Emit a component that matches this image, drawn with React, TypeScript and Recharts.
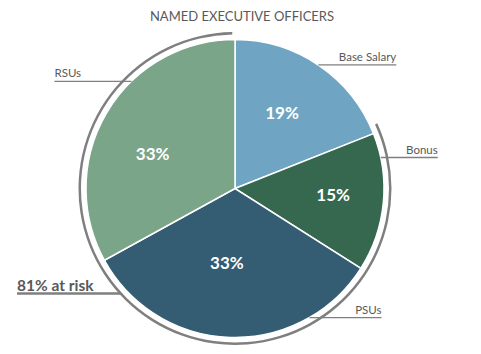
import { PieChart, Pie, Cell } from 'recharts'

const categories = ['Base Salary', 'Bonus', 'PSUs', 'RSUs']
const shares = [19, 15, 33, 33]
const chartTitle = 'NAMED EXECUTIVE OFFICERS'
const atRiskLabel = '81% at risk'

const COLORS = ['#6FA5C2', '#36684F', '#345C72', '#7AA588']
const GREY = '#7F7F7F'
const TEXT = '#595959'
const FONT = 'Lato, "Liberation Sans", sans-serif'

// where each leader line leaves the pie (degrees clockwise from 12 o'clock), length, direction
const LEADERS = [
  { angle: 34, len: 78, dir: 1 },
  { angle: 78, len: 57, dir: 1 },
  { angle: 150, len: 72, dir: 1 },
  { angle: 316, len: 77, dir: -1 },
]
// percent label placement: radius as share of outerRadius, nudge off the mid angle (deg, clockwise)
const LABEL_POS = [
  { r: 0.6, nudge: -2.5 },
  { r: 0.66, nudge: -2 },
  { r: 0.5, nudge: 4.4 },
  { r: 0.6, nudge: -7.7 },
]

const W = 481
const H = 354
const CX = 235
const CY = 188.5
const R = 149
const ARC_IN = 154
const ARC_OUT = 156.5

const data = categories.map((name, i) => ({ name, value: shares[i] }))
const total = shares.reduce((a, b) => a + b, 0)
// the at-risk bracket starts just before the Bonus slice and runs round to the top
const atRiskStart = (shares[0] / total) * 360 - 3
const arcData = [{ name: 'at risk', value: total - shares[0] }]

const RAD = Math.PI / 180

const renderLabel = (props: any) => {
  const { cx, cy, midAngle, outerRadius, index, name, value } = props
  const p = LABEL_POS[index]
  const r = outerRadius * p.r
  const ang = (90 - midAngle + p.nudge) * RAD
  const x = cx + r * Math.sin(ang)
  const y = cy - r * Math.cos(ang)
  const l = LEADERS[index]
  const a = l.angle * RAD
  const sx = cx + outerRadius * Math.sin(a)
  const sy = cy - outerRadius * Math.cos(a)
  const ex = sx + l.dir * l.len
  return (
    <g>
      <text
        x={x}
        y={y}
        fill="#fff"
        textAnchor="middle"
        dominantBaseline="central"
        fontWeight={700}
        fontSize={17}
        fontFamily={FONT}
      >
        {value}%
      </text>
      <line x1={sx} y1={sy} x2={ex} y2={sy} stroke={GREY} strokeWidth={1.3} />
      <text
        x={ex}
        y={sy - 4}
        textAnchor={l.dir > 0 ? 'end' : 'start'}
        fontSize={11.5}
        fill={TEXT}
        fontFamily={FONT}
      >
        {name}
      </text>
    </g>
  )
}

export default function App() {
  // underline of "81% at risk" runs until it meets the bracket arc
  const uy = 293.5
  const ux = CX - Math.sqrt(((ARC_IN + ARC_OUT) / 2) ** 2 - (uy - CY) ** 2)

  return (
    <div style={{ position: 'absolute', left: 0, top: 0, width: W, height: H, background: '#fff' }}>
      <PieChart width={W} height={H} margin={{ top: 0, right: 0, bottom: 0, left: 0 }}>
        <Pie
          data={arcData}
          dataKey="value"
          cx={CX}
          cy={CY}
          innerRadius={ARC_IN}
          outerRadius={ARC_OUT}
          startAngle={90 - atRiskStart}
          endAngle={90 - 359}
          stroke="none"
          fill={GREY}
          isAnimationActive={false}
        />
        <Pie
          data={data}
          dataKey="value"
          nameKey="name"
          cx={CX}
          cy={CY}
          outerRadius={R}
          startAngle={90}
          endAngle={-270}
          stroke="#fff"
          strokeWidth={1.5}
          label={renderLabel}
          labelLine={false}
          isAnimationActive={false}
        >
          {data.map((d, i) => (
            <Cell key={d.name} fill={COLORS[i]} />
          ))}
        </Pie>
      </PieChart>
      <svg
        width={W}
        height={H}
        style={{ position: 'absolute', left: 0, top: 0, pointerEvents: 'none' }}
      >
        <text x={242} y={21} textAnchor="middle" fontSize={13} fill={TEXT} fontFamily={FONT}>
          {chartTitle}
        </text>
        <text x={17} y={291} fontSize={15.5} fontWeight={700} fill={TEXT} fontFamily={FONT}>
          {atRiskLabel}
        </text>
        <line x1={17} y1={uy} x2={ux} y2={uy} stroke={GREY} strokeWidth={2.5} />
      </svg>
    </div>
  )
}
